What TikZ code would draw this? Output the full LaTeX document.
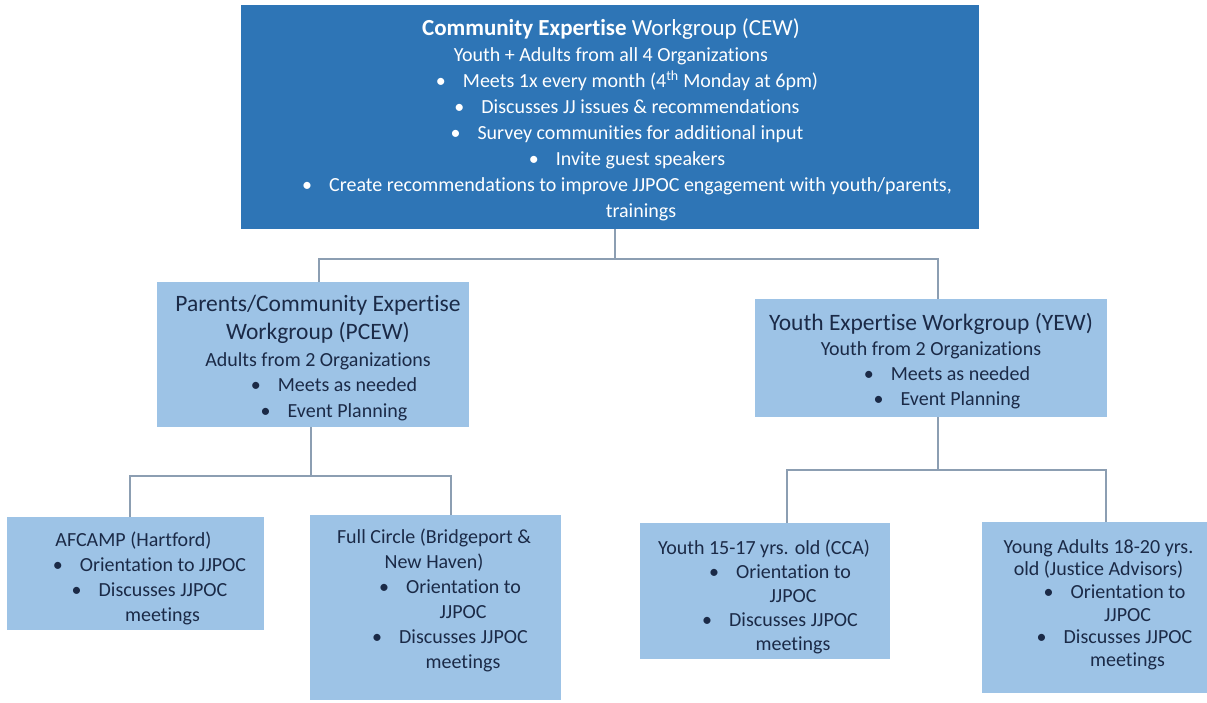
\documentclass[tikz,border=0pt]{standalone}
\usepackage{fontspec}
\setmainfont{Carlito}[Ligatures={NoCommon}]
\definecolor{darkbox}{HTML}{2E75B6}
\definecolor{lightbox}{HTML}{9DC3E6}
\definecolor{navytext}{HTML}{1B2A47}
\definecolor{connline}{HTML}{8C9EB2}
\newcommand{\bul}{\makebox[27pt][l]{\textbullet}}
\newcommand{\sh}[1]{\hspace*{#1pt}}
\tikzset{
  darkshape/.style={rectangle, fill=darkbox, draw=none, inner sep=0pt, outer sep=0pt},
  lightshape/.style={rectangle, fill=lightbox, draw=none, inner sep=0pt, outer sep=0pt},
  darktext/.style={text=white, align=center, inner sep=0pt, font=\fontsize{20}{26}\selectfont},
  lighttext/.style={text=navytext, align=center, inner sep=0pt, font=\fontsize{20}{25}\selectfont},
  conn/.style={draw=connline, line width=1.1pt},
}
\begin{document}
\begin{tikzpicture}[x=1pt,y=-1pt]
\useasboundingbox (0,0) rectangle (1207,702);
% boxes
\node[darkshape, minimum width=738pt, minimum height=224pt] (cew) at (610,117) {};
\node[lightshape, minimum width=312pt, minimum height=145pt] (pcew) at (313,354.5) {};
\node[lightshape, minimum width=352pt, minimum height=118pt] (yew) at (931,358) {};
\node[lightshape, minimum width=257pt, minimum height=113pt] (afc) at (135.5,573.5) {};
\node[lightshape, minimum width=251pt, minimum height=185pt] (full) at (435.5,607.5) {};
\node[lightshape, minimum width=250pt, minimum height=136pt] (yth) at (765,591) {};
\node[lightshape, minimum width=225pt, minimum height=171pt] (ya) at (1094.5,607.5) {};
% texts
\node[darktext] (cew-t) at (611,120) {%
{\fontsize{23}{26}\selectfont\textbf{Community Expertise} Workgroup (CEW)}\\
Youth + Adults from all 4 Organizations\\
\sh{32}\bul Meets 1x every month (4\textsuperscript{th} Monday at 6pm)\\
\sh{32}\bul Discusses JJ issues \& recommendations\\
\sh{32}\bul Survey communities for additional input\\
\sh{32}\bul Invite guest speakers\\
\sh{32}\bul Create recommendations to improve JJPOC engagement with youth/parents,\\
\sh{60}trainings};
\node[lighttext] (pcew-t) at (318,358.5) {%
{\fontsize{23.5}{26}\selectfont Parents/Community Expertise}\\[3pt]
{\fontsize{23.5}{26}\selectfont Workgroup (PCEW)}\\[2pt]
Adults from 2 Organizations\\
\sh{32}\bul Meets as needed\\[1pt]
\sh{32}\bul Event Planning};
\node[lighttext] (yew-t) at (931,361.5) {%
{\fontsize{23.5}{26}\selectfont Youth Expertise Workgroup (YEW)}\\
Youth from 2 Organizations\\
\sh{32}\bul Meets as needed\\
\sh{32}\bul Event Planning};
\node[lighttext] (afc-t) at (133.5,578) {%
AFCAMP (Hartford)\\
\sh{32}\bul Orientation to JJPOC\\
\sh{32}\bul Discusses JJPOC\\
\sh{58}meetings};
\node[lighttext] (full-t) at (434,600.5) {%
Full Circle (Bridgeport \&\\
New Haven)\\
\sh{32}\bul Orientation to\\
\sh{58}JJPOC\\
\sh{32}\bul Discusses JJPOC\\
\sh{58}meetings};
\node[lighttext, font=\fontsize{20}{24}\selectfont] (yth-t) at (764,597) {%
Youth 15-17 yrs. old (CCA)\\
\sh{32}\bul Orientation to\\
\sh{58}JJPOC\\
\sh{32}\bul Discusses JJPOC\\
\sh{58}meetings};
\node[lighttext, font=\fontsize{20}{22.6}\selectfont] (ya-t) at (1098.5,604.5) {%
Young Adults 18-20 yrs.\\
old (Justice Advisors)\\
\sh{32}\bul Orientation to\\
\sh{58}JJPOC\\
\sh{32}\bul Discusses JJPOC\\
\sh{58}meetings};
% connector junctions
\coordinate (j0) at (615,259);
\coordinate (jp) at (319,259);
\coordinate (jy) at (938,259);
\coordinate (k0) at (311,476);
\coordinate (ka) at (130,476);
\coordinate (kb) at (451,476);
\coordinate (m0) at (938,470);
\coordinate (ma) at (787,470);
\coordinate (mb) at (1106,470);
% connectors
\draw[conn] (cew.south -| j0) -- (j0);
\draw[conn] (pcew.north -| jp) -- (jp) -- (jy) -- (yew.north -| jy);
\draw[conn] (pcew.south -| k0) -- (k0);
\draw[conn] (afc.north -| ka) -- (ka) -- (kb) -- (full.north -| kb);
\draw[conn] (yew.south -| m0) -- (m0);
\draw[conn] (yth.north -| ma) -- (ma) -- (mb) -- (ya.north -| mb);
\end{tikzpicture}
\end{document}
